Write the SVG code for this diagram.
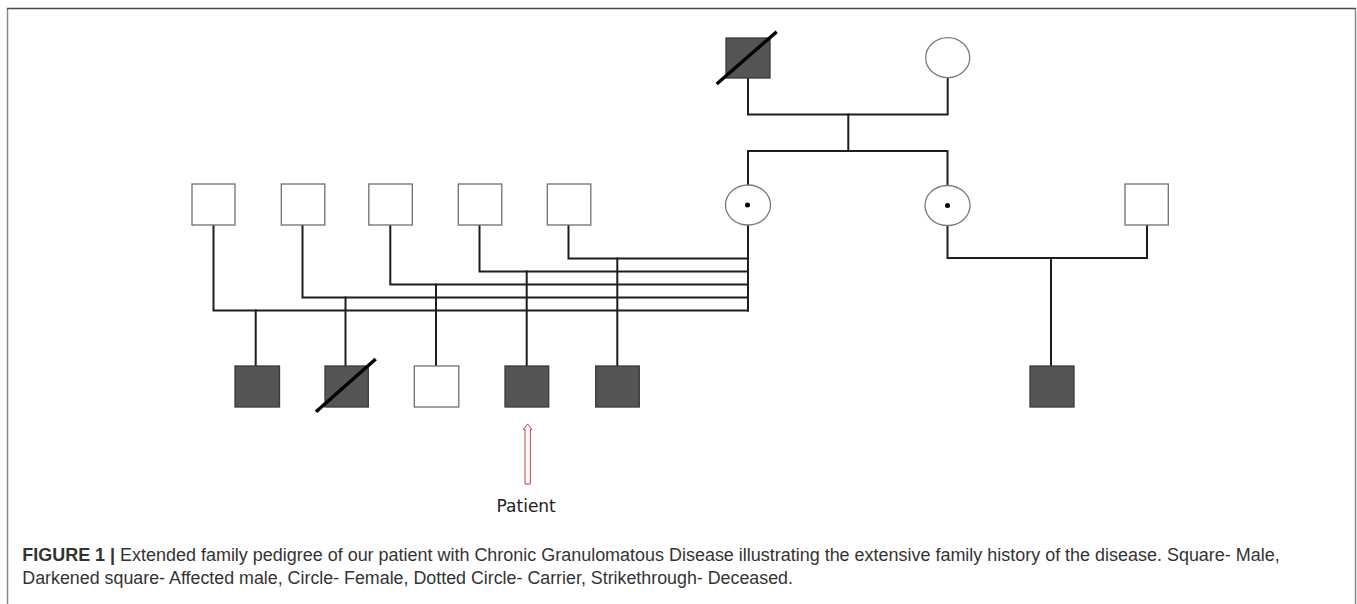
<svg xmlns="http://www.w3.org/2000/svg" width="1357" height="604" viewBox="0 0 1357 604">
<style>
.bg{fill:#ffffff}
.frame{stroke:#8a8a8a;stroke-width:1.5;fill:none}
.frametop{stroke:#4a4a4a;stroke-width:1.5;fill:none}
.male{fill:#ffffff;stroke:#6f6f6f;stroke-width:1.3}
.affected{fill:#555555;stroke:#3a3a3a;stroke-width:1.3}
.female{fill:#ffffff;stroke:#7a7a7a;stroke-width:1.3}
.dot{fill:#000000}
.strike{stroke:#000000;stroke-width:3.5;stroke-linecap:butt}
.conn{fill:none;stroke:#1e1e1e;stroke-width:2;stroke-linejoin:miter;stroke-linecap:square}
.arrow{fill:#ffffff;stroke:#d03a3a;stroke-width:1}
.label{font-family:"DejaVu Sans",Verdana,sans-serif;font-size:17px;fill:#222222}
.cap{font-family:"Liberation Sans",Arial,Helvetica,sans-serif;font-size:17.5px;fill:#333333}
.bold{font-weight:bold}
</style>
<rect class="bg" x="0" y="0" width="1357" height="604"/>
<g id="frame">
<line class="frame" x1="7.5" y1="8.5" x2="7.5" y2="604"/>
<line class="frame" x1="1355.5" y1="8.5" x2="1355.5" y2="604"/>
<line class="frametop" x1="7" y1="8.5" x2="1356" y2="8.5"/>
</g>
<g id="connectors">
<path class="conn" d="M748,78 V114.5 H947.7 V78"/>
<path class="conn" d="M848.3,114.5 V151"/>
<path class="conn" d="M748,185 V151 H947.5 V185.5"/>
<path class="conn" d="M748,225 V310.5"/>
<path class="conn" d="M213.5,225 V310.5 H748"/>
<path class="conn" d="M302.5,225 V297.5 H748"/>
<path class="conn" d="M390.3,225 V284.5 H748"/>
<path class="conn" d="M479.5,225 V271.5 H748"/>
<path class="conn" d="M568.5,225 V258.5 H748"/>
<path class="conn" d="M255.7,310.5 V366"/>
<path class="conn" d="M345.5,297.5 V366"/>
<path class="conn" d="M436,284.5 V366"/>
<path class="conn" d="M526.7,271.5 V366"/>
<path class="conn" d="M617.3,258.5 V366"/>
<path class="conn" d="M947.5,225.5 V258 H1147 V225"/>
<path class="conn" d="M1051,258 V366"/>
</g>
<g id="grandfather">
<rect class="affected" x="726" y="38" width="44" height="40"/>
<line class="strike" x1="716.7" y1="84" x2="776.7" y2="31.7"/>
</g>
<g id="grandmother">
<ellipse class="female" cx="947.7" cy="57.7" rx="22" ry="20"/>
</g>
<g id="mother">
<ellipse class="female" cx="748" cy="205" rx="22.5" ry="20"/>
<circle class="dot" cx="747.5" cy="205" r="2.5"/>
</g>
<g id="aunt">
<ellipse class="female" cx="947.5" cy="205.5" rx="22.5" ry="20"/>
<circle class="dot" cx="947.5" cy="205.5" r="2.5"/>
</g>
<g id="father1"><rect class="male" x="192" y="184" width="43" height="41"/></g>
<g id="father2"><rect class="male" x="281.3" y="184" width="43.5" height="41"/></g>
<g id="father3"><rect class="male" x="368.8" y="184" width="43.5" height="41"/></g>
<g id="father4"><rect class="male" x="458.3" y="184" width="43.5" height="41"/></g>
<g id="father5"><rect class="male" x="547.3" y="184" width="43.5" height="41"/></g>
<g id="uncle"><rect class="male" x="1125" y="184" width="43.3" height="41"/></g>
<g id="child1"><rect class="affected" x="235" y="366" width="44.5" height="41"/></g>
<g id="child2">
<rect class="affected" x="325" y="366" width="43.3" height="41"/>
<line class="strike" x1="316" y1="411.7" x2="375.7" y2="359"/>
</g>
<g id="child3"><rect class="male" x="414.3" y="366" width="44.5" height="41"/></g>
<g id="child4"><rect class="affected" x="505" y="366" width="43.7" height="41"/></g>
<g id="child5"><rect class="affected" x="595.7" y="366" width="43.6" height="41"/></g>
<g id="cousin"><rect class="affected" x="1030" y="366" width="44" height="41"/></g>
<g id="patient-marker">
<polygon class="arrow" points="527.7,424 532,429.5 530.4,429.5 530.4,484 525,484 525,429.5 523.4,429.5"/>
<text class="label" x="526.2" y="511.7" text-anchor="middle">Patient</text>
</g>
<g id="caption">
<text class="cap" x="22.3" y="561" textLength="1257.4" lengthAdjust="spacingAndGlyphs"><tspan class="bold">FIGURE 1 |</tspan> Extended family pedigree of our patient with Chronic Granulomatous Disease illustrating the extensive family history of the disease. Square- Male,</text>
<text class="cap" x="22.3" y="583.5" textLength="770.7" lengthAdjust="spacingAndGlyphs">Darkened square- Affected male, Circle- Female, Dotted Circle- Carrier, Strikethrough- Deceased.</text>
</g>
</svg>
